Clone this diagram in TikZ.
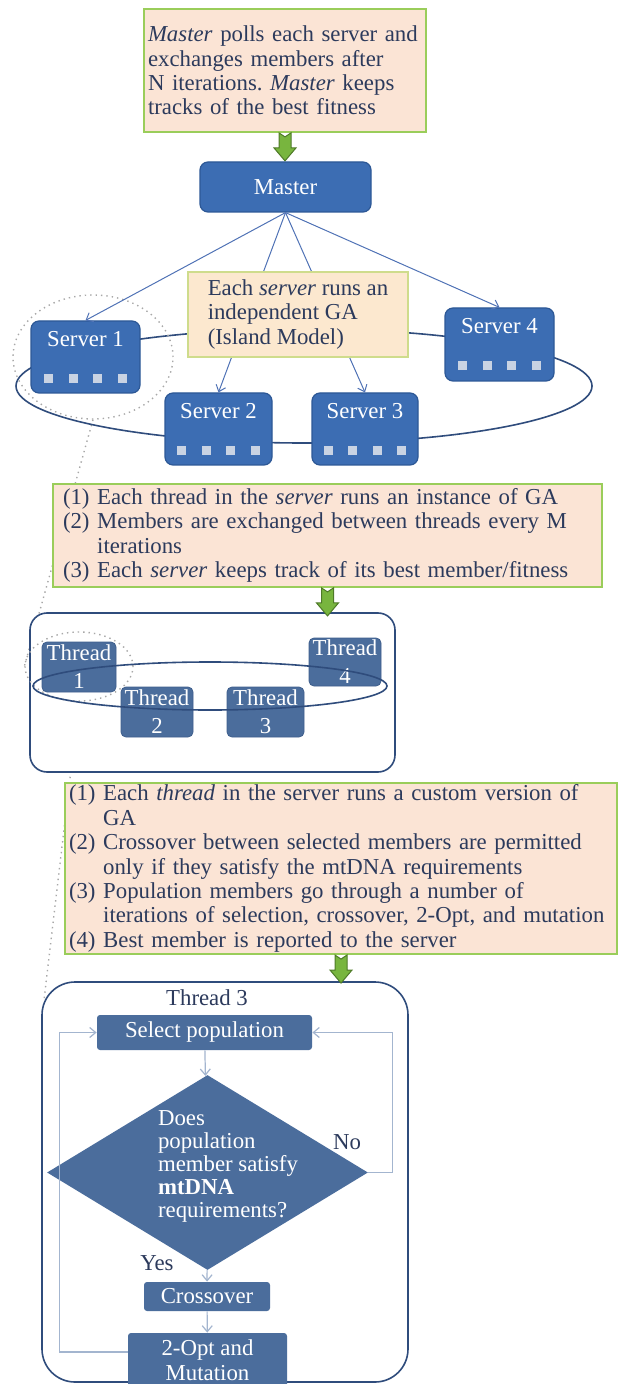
\documentclass[tikz,border=0pt]{standalone}
\usepackage{fontspec}
\setmainfont{Liberation Serif}
\usetikzlibrary{positioning, shapes.geometric, arrows.meta, calc, backgrounds}
\frenchspacing

\definecolor{notepeach}{HTML}{FBE4D5}
\definecolor{notegreen}{HTML}{9ACD5A}
\definecolor{gapeach}{HTML}{FCE8CF}
\definecolor{gaedge}{HTML}{CFDC8C}
\definecolor{inkblue}{HTML}{2C3A5C}
\definecolor{srvblue}{HTML}{3C6DB3}
\definecolor{srvedge}{HTML}{2D5896}
\definecolor{chipgray}{HTML}{C9D3E3}
\definecolor{thrblue}{HTML}{4B6D9C}
\definecolor{thredge}{HTML}{3E5E8C}
\definecolor{linkblue}{HTML}{4F72B5}
\definecolor{ringblue}{HTML}{2F4C7C}
\definecolor{flowgray}{HTML}{A3B5CF}
\definecolor{dotgray}{HTML}{A8A8A8}
\definecolor{arrowgreen}{HTML}{78B53E}
\definecolor{arrowedge}{HTML}{4E7A28}

\newcommand{\notefont}{\fontsize{11.4}{12.2}\selectfont}
\newcommand{\threadfont}{\fontsize{11.4}{14}\selectfont}
\newcommand{\chiprow}{\textcolor{chipgray}{\rule{4.5pt}{4.5pt}\hspace{7.75pt}\rule{4.5pt}{4.5pt}\hspace{7.75pt}\rule{4.5pt}{4.5pt}\hspace{7.75pt}\rule{4.5pt}{4.5pt}}}

\tikzset{
  notebox/.style={draw=notegreen, line width=0.9pt, fill=notepeach, text=inkblue, align=left, inner xsep=4pt, inner ysep=2pt, font=\notefont},
  srvbox/.style={draw=srvedge, fill=srvblue, rounded corners=4pt, text=white, align=center, font=\notefont, line width=0.6pt},
  thrbox/.style={fill=thrblue, draw=thredge, rounded corners=2.5pt, text=white, align=center, font=\threadfont, inner sep=0pt},
  flowbox/.style={fill=thrblue, rounded corners=1.5pt, text=white, align=center, font=\notefont, inner sep=0pt},
  link/.style={draw=linkblue, line width=0.5pt, -{Straight Barb[length=3pt, width=5pt]}},
  flow/.style={draw=flowgray, line width=0.6pt, -{Straight Barb[length=3pt, width=5pt]}},
  ring/.style={draw=ringblue, line width=0.8pt},
  focus/.style={draw=dotgray, dotted, line width=0.7pt, ellipse, inner sep=0pt},
  panel/.style={draw=ringblue, line width=0.8pt, fill=white},
  plain/.style={text=inkblue, font=\notefont},
  pics/gdown/.style={code={
    \filldraw[fill=arrowgreen, draw=arrowedge, line width=0.5pt]
      (-6,0) -- (0,4) -- (6,0) -- (6,15) -- (11,15) -- (0,28) -- (-11,15) -- (-6,15) -- cycle;}}
}

\begin{document}
\begin{tikzpicture}[x=0.5pt, y=-0.5pt]
  \useasboundingbox (0,0) rectangle (619,1384);

  \node[notebox, text width=137pt, inner xsep=2pt, minimum height=61.5pt] (note1) at (285,70.5)
    {\emph{Master} polls each server and\\exchanges members after\\N iterations. \emph{Master} keeps\\tracks of the best fitness};
  \pic at (note1.south) {gdown};
  \node[srvbox, minimum width=85.5pt, minimum height=25pt] (master) at (285.5,187) {Master};

  \draw[ring] (304,386) ellipse [x radius=144pt, y radius=28.5pt];
  \node[focus, minimum width=80pt, minimum height=62pt] (focus1) at (93,357) {};
  \node[srvbox, minimum width=54.5pt, minimum height=36pt] (srv1) at (85.5,357) {Server 1\\[6pt]\chiprow};
  \node[srvbox, minimum width=54.5pt, minimum height=36.5pt] (srv4) at (499.5,344.5) {Server 4\\[6pt]\chiprow};
  \node[srvbox, minimum width=53.5pt, minimum height=36pt] (srv2) at (218.5,429) {Server 2\\[6pt]\chiprow};
  \node[srvbox, minimum width=53pt, minimum height=36pt] (srv3) at (365,429) {Server 3\\[6pt]\chiprow};
  \foreach \s in {srv1, srv2, srv3, srv4}
    \draw[link] (master.south) -- (\s.north);
  \node[notebox, draw=gaedge, fill=gapeach, minimum width=110pt, minimum height=42.5pt] (ganote) at (298,314.5)
    {Each \emph{server} runs an\\independent GA\\(Island Model)};

  \node[notebox, text width=264.5pt, inner xsep=5pt, inner ysep=1.5pt, minimum height=51.5pt] (note2) at (327.5,535.5)
    {(1) Each thread in the \emph{server} runs an instance of GA\\(2) Members are exchanged between threads every M\\\phantom{(2) }iterations\\(3) Each \emph{server} keeps track of its best member/fitness};
  \node[panel, rounded corners=8.5pt, minimum width=182.5pt, minimum height=79.5pt] (tpanel) at (212.5,692.5) {};
  \pic at (note2.south) {gdown};
  \node[focus, minimum width=54pt, minimum height=34.5pt] (focus2) at (79,666.5) {};
  \node[thrbox, minimum width=37pt, minimum height=25pt] (thr1) at (79,667) {Thread\\1};
  \node[thrbox, minimum width=36pt, minimum height=24pt] (thr4) at (345,662) {Thread\\4};
  \node[thrbox, minimum width=36pt, minimum height=25pt] (thr2) at (157,712) {Thread\\2};
  \node[thrbox, minimum width=38.5pt, minimum height=25pt] (thr3) at (265.5,712) {Thread\\3};
  \draw[ring] (210,686) ellipse [x radius=88.5pt, y radius=12pt];

  \node[notebox, text width=272pt, inner xsep=2pt, inner ysep=1pt, minimum height=84.5pt] (note3) at (341,868.5)
    {(1) Each \emph{thread} in the server runs a custom version of\\\phantom{(1) }GA\\(2) Crossover between selected members are permitted\\\phantom{(2) }only if they satisfy the mtDNA requirements\\(3) Population members go through a number of\\\phantom{(3) }iterations of selection, crossover, 2-Opt, and mutation\\(4) Best member is reported to the server};
  \node[panel, rounded corners=16.5pt, minimum width=183pt, minimum height=200pt] (tpanelb) at (225,1182) {};
  \pic at (note3.south) {gdown};
  \node[plain] (t3title) at (207,998) {Thread 3};
  \node[flowbox, minimum width=107.5pt, minimum height=17.5pt] (selpop) at (204.5,1032.5) {Select population};
  \node[diamond, fill=thrblue, inner sep=0pt, minimum width=160.5pt, minimum height=97.5pt] (decide) at (207.5,1172.5) {};
  \node[text=white, font=\fontsize{11.4}{11.5}\selectfont, align=left] (decidetxt) at (228,1166)
    {Does\\population\\member satisfy\\\textbf{mtDNA}\\requirements?};
  \node[flowbox, minimum width=63pt, minimum height=14.5pt] (crossover) at (207,1296.5) {Crossover};
  \node[flowbox, minimum width=79.5pt, minimum height=27pt] (twoopt) at (207.5,1360) {2-Opt and\\Mutation};
  \draw[flow] (selpop) -- (decide);
  \draw[flow] (decide) -- (crossover);
  \draw[flow] (crossover) -- (twoopt);
  \draw[flow] ([yshift=4pt]twoopt.west) -- ++(-68,0) |- (selpop.west);
  \draw[flow] (decide.east) -- ++(24,0) |- (selpop.east);
  \node[plain] (nolabel) at (347,1142) {No};
  \node[plain] (yeslabel) at (157,1263) {Yes};

  \begin{scope}[on background layer]
    \coordinate (zoomend) at (44,1000);
    \draw[dotgray, dotted, line width=0.7pt] (focus1.south) -- (focus2.west);
    \draw[dotgray, dotted, line width=0.7pt] (focus2.south) -- (zoomend);
  \end{scope}
\end{tikzpicture}
\end{document}
